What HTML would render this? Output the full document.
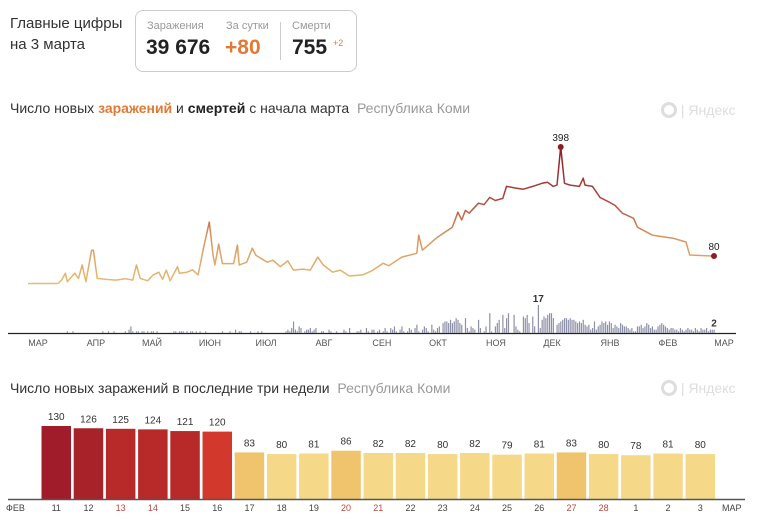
<!DOCTYPE html>
<html><head><meta charset="utf-8">
<style>
body{margin:0;width:757px;height:524px;background:#fff;font-family:"Liberation Sans","Noto Sans CJK SC",sans-serif;overflow:hidden;position:relative;color:#222}
.abs{position:absolute;white-space:nowrap}
svg{position:absolute;left:0;top:0}
</style></head><body>
<div class="abs" style="left:10px;top:13px;font-size:15px;line-height:21px;color:#333">Главные цифры<br>на 3 марта</div>
<div class="abs" style="left:135px;top:10px;width:220px;height:60px;border:1px solid #ccc;border-radius:8px"></div>
<div class="abs" style="left:147px;top:20px;font-size:11px;color:#999">Заражения</div>
<div class="abs" style="left:146px;top:36px;font-size:21px;font-weight:bold;color:#222">39 676</div>
<div class="abs" style="left:226px;top:20px;font-size:11px;color:#999">За сутки</div>
<div class="abs" style="left:225px;top:36px;font-size:21px;font-weight:bold;color:#e07a35">+80</div>
<div class="abs" style="left:280px;top:22px;width:1px;height:38px;background:#ccc"></div>
<div class="abs" style="left:292px;top:20px;font-size:11px;color:#999">Смерти</div>
<div class="abs" style="left:292px;top:36px;font-size:21px;font-weight:bold;color:#222">755</div>
<div class="abs" style="left:333px;top:38px;font-size:9px;color:#e07a35">+2</div>

<div class="abs" style="left:10px;top:100px;font-size:14px;color:#333">Число новых <b style="color:#e07a35">заражений</b> и <b style="color:#222">смертей</b> с начала марта&nbsp; <span style="color:#999">Республика Коми</span></div>
<div class="abs" style="left:661px;top:102px;font-size:14px;color:#ddd"><span style="display:inline-block;width:10px;height:10px;border:3px solid #ddd;border-radius:50%;vertical-align:-3px"></span> | Яндекс</div>
<div class="abs" style="left:10px;top:380px;font-size:14px;color:#333">Число новых заражений в последние три недели&nbsp; <span style="color:#999">Республика Коми</span></div>
<div class="abs" style="left:661px;top:380px;font-size:14px;color:#ddd"><span style="display:inline-block;width:10px;height:10px;border:3px solid #ddd;border-radius:50%;vertical-align:-3px"></span> | Яндекс</div>

<svg id="chart" width="757" height="524">
<defs><linearGradient id="lg" gradientUnits="userSpaceOnUse" x1="0" y1="284" x2="0" y2="147">
<stop offset="0" stop-color="#e6bc70"/><stop offset="0.35" stop-color="#d9935c"/><stop offset="0.65" stop-color="#a8423a"/><stop offset="1" stop-color="#8c1d24"/></linearGradient></defs>
</svg>
<script>
// Line chart data (day index from 1 March, new infections)
const lineDays=[0,16,18,20,21,25,27,29,31,34,35,37,42,47,52,56,58,60,64,67,70,72,74,76,80,81,85,88,91,94,97,99,100,102,104,110,112,113,117,120,122,128,131,135,139,142,147,151,155,158,163,167,172,179,184,190,193,200,208,209,211,219,227,230,232,234,236,241,244,247,250,254,256,261,265,270,275,278,281,283,285,287,290,295,297,298,302,306,311,314,318,324,326,334,345,352,354,367];
const lineVals=[0,0,10,30,5,30,15,54,5,97,97,15,12,10,14,10,54,15,8,25,33,12,39,8,49,30,33,40,25,106,179,82,54,115,58,58,112,54,62,103,82,62,68,49,66,39,42,39,77,54,33,39,22,25,37,59,52,77,88,141,97,135,164,208,185,213,205,234,230,251,242,248,283,278,275,283,292,295,283,287,398,292,287,283,307,287,283,251,237,228,205,190,164,141,132,121,83,80];
// Deaths per day from 1 March
const deaths=[].concat(
 [0,0,0,0,0,0,0,0,0,0,0,0,0,0,0,0,0,0,0,0],
 [0,1,0,0,1,0],
 [0,0,0,0,0,0,0,0,0,0,0,0,0,0],
 [1,0,0,1,0,0,1,0],[0,0,0,0],
 [1,0,2,4,1,0,1,1,0,1,1,0,1,0,1,1,0,1,0],
 [0,0,0,0,0,0,0],
 [1,1,0,1,1,1,0,1,0,1,1,0,1,0,1,0,0,1],
 [0,0,0,0,0,0,0,0],
 [1,0,0,0,1,0,0,2,0,1,1,0,0,0,0,1,0,0,0,1,0,1,0,0,0,0,0,0],
 [0,0,0,0,0,0],
 [1,2,1,3,7,2,1,4,3,0,1,2,2,3,1,2,3,0,0,1,1,0,0,2,1,0],
 [0,1,0,0,0,2,1,0,3,0,0,0,1,1,2,0,0,3,1,0,2,2,0,1],
 [2,0,1,3,1,0,3,2,4,1,0,2,4,1,0,1,3,2,0,3,5,1,0,2,4,3,1,0,5,2,1,3,4,0,6,7],
 [7,6,8,6,7,9,8,6,5,0,9,3,1,4,3,2,0,8,3,0,1,4,0],
 [12,1,0,4,6,8,0,11,3,9,12,0,0,11,4,2,1,0,10,9,11,6,0,10,4,0],
 [17,3,8,10,9,11,12,12,9,0,5,6],
 [7,8,9,9,8,9,8,8,7,6,7,6,8,5,4,5,2],
 [3,7,2,4,5,7,6,7,5,7,6,3,5,4,3,6,5,4,4,3,2,3,1,1,4],
 [4,5,3,4,6,5,3,4,2,2,4,5,6,5,4,3,2,3],
 [3,2,2,1,3,2,1,2,3,2,2,1,3,2,1,3,2,2,3,1,2,2,2]);
const monthLabels=["МАР","АПР","МАЙ","ИЮН","ИЮЛ","АВГ","СЕН","ОКТ","НОЯ","ДЕК","ЯНВ","ФЕВ","МАР"];
const monthDays=[0,31,61,92,122,153,184,214,245,275,306,337,367];
// Bar chart data (last three weeks)
const barDays=["11","12","13","14","15","16","17","18","19","20","21","22","23","24","25","26","27","28","1","2","3"];
const barVals=[130,126,125,124,121,120,83,80,81,86,82,82,80,82,79,81,83,80,78,81,80];
const weekend=[false,false,true,true,false,false,false,false,false,true,true,false,false,false,false,false,true,true,false,false,false];

const NS="http://www.w3.org/2000/svg";
const svg=document.getElementById('chart');
function mk(t,a,txt){const e=document.createElementNS(NS,t);for(const k in a)e.setAttribute(k,a[k]);if(txt!==undefined)e.textContent=txt;svg.appendChild(e);return e;}
const nDays=367;
const xDay=d=>28+d*(714-28)/nDays;
const yLine=v=>283.5-v*0.343;
const yDeath=v=>333-v*1.65;

// axis line top
let ax=mk('line',{x1:8,x2:736,y1:333.5,y2:333.5,stroke:'#222','stroke-width':1.2});


// death bars
deaths.forEach((v,i)=>{if(!v)return;
 const b=mk('rect',{x:xDay(i)-0.5,y:yDeath(v),width:1.2,height:333-yDeath(v),fill:'#8e90a8'});
 
 
});
let mx=0;deaths.forEach((v,i)=>{if(v>deaths[mx])mx=i;});
let dl=mk('text',{x:xDay(mx),y:yDeath(deaths[mx])-3,'font-size':10,'font-weight':'bold','text-anchor':'middle',fill:'#333'},String(deaths[mx]));


const li=deaths.length-1;
let dl2=mk('text',{x:xDay(li),y:yDeath(deaths[li])-3,'font-size':10,'font-weight':'bold','text-anchor':'middle',fill:'#333'},String(deaths[li]));


// month labels
monthLabels.forEach((m,i)=>{
 const t=mk('text',{x:xDay(monthDays[i])+10,y:346,'font-size':9,'text-anchor':'middle',fill:'#555'},m);
 
 
});
// line
let d='';lineDays.forEach((dd,i)=>{d+=(i?'L':'M')+xDay(dd).toFixed(1)+' '+yLine(lineVals[i]).toFixed(1);});
let pl=mk('path',{d:d,fill:'none',stroke:'url(#lg)','stroke-width':1.5,'stroke-linejoin':'round'});


let pk=0;lineVals.forEach((v,i)=>{if(v>lineVals[pk])pk=i;});
[pk,lineVals.length-1].forEach((i,k)=>{
 const c=mk('circle',{cx:xDay(lineDays[i]),cy:yLine(lineVals[i]),r:3,fill:'#8c1d24'});
 
 
 const t=mk('text',{x:xDay(lineDays[i]),y:yLine(lineVals[i])-6,'font-size':10,'text-anchor':'middle',fill:'#222'},String(lineVals[i]));
 
 
});

// bottom bar chart
const base=499,bx0=41.5,pitch=32.2,bw=29.5,sc=0.5615;
const xBar=i=>bx0+i*pitch;
const yBar=v=>base-v*sc;
function color(v,i){if(v>=129)return'#a11c2a';if(v>=126)return'#a8222a';if(v>=121)return'#b82a2a';if(v>=100)return'#d3382d';if(v>=83)return'#f0c46c';return'#f5d989';}
barVals.forEach((v,i)=>{
 const r=mk('rect',{x:xBar(i),y:yBar(v),width:bw,height:base-yBar(v),fill:color(v,i)});
 
 
 const t=mk('text',{x:xBar(i)+bw/2,y:yBar(v)-6,'font-size':10,'text-anchor':'middle',fill:'#333'},String(v));
 
 
 const l=mk('text',{x:xBar(i)+bw/2,y:511,'font-size':9,'text-anchor':'middle',fill:weekend[i]?'#b5473f':'#444'},barDays[i]);
 
 
});
let ax2=mk('line',{x1:8,x2:745,y1:499.5,y2:499.5,stroke:'#555','stroke-width':1.5});


let f=mk('text',{x:6,y:511,'font-size':9,fill:'#444'},'ФЕВ');


let m=mk('text',{x:722,y:511,'font-size':9,fill:'#444'},'МАР');


</script>
</body></html>
